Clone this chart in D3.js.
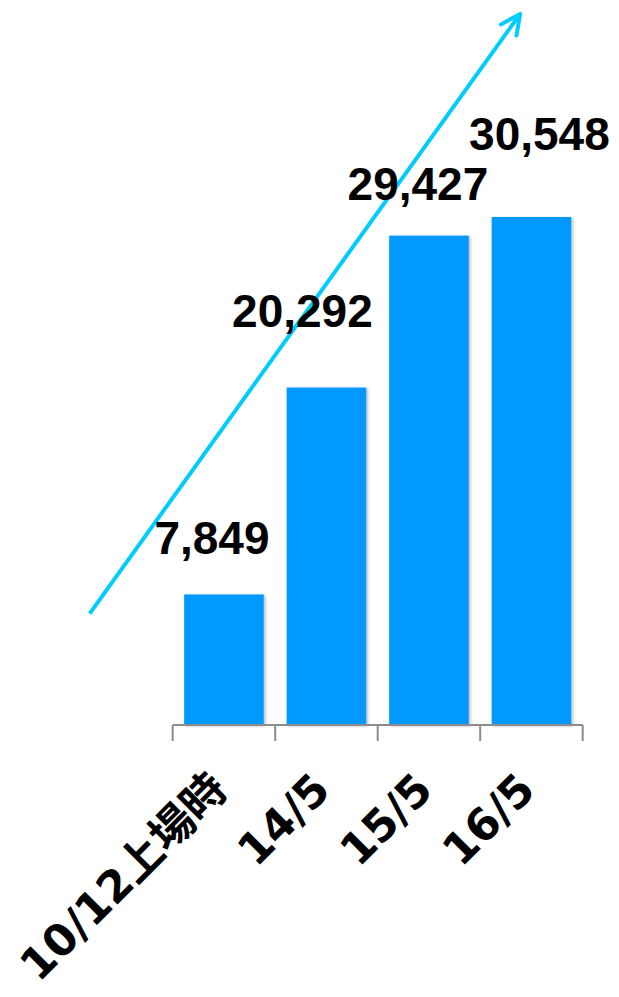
<!DOCTYPE html>
<html>
<head>
<meta charset="utf-8">
<script src="https://cdn.jsdelivr.net/npm/d3@7"></script>
<style>
  html, body { margin: 0; padding: 0; background: #fff; }
  svg { display: block; }
</style>
</head>
<body>
<svg id="chart" width="619" height="997"></svg>
<script>
// ---- data ----
const categories = ["10/12上場時", "14/5", "15/5", "16/5"];
const values = [7849, 20292, 29427, 30548];
const valueLabels = ["7,849", "20,292", "29,427", "30,548"];
// trend arrow annotation, in (category-step, value) units
const trendPos = [-1.31, 2.89];
const trendValue = [6700, 42760];

// ---- layout ----
const W = 619, H = 997;
const baseY = 725;
// hand placement of the value labels, as in the original slide
const labelNudgeX = [-12, -24, -11, 8];
const labelNudgeY = [-40, -61, -36, -67];

const svg = d3.select("#chart");

const x = d3.scaleBand()
  .domain(categories)
  .range([172.7, 582.7])
  .paddingInner(0.224)
  .paddingOuter(0.112);

const y = d3.scaleLinear()
  .domain([0, 30548])
  .range([baseY, 217]);

const centerAt = p => x(categories[0]) + x.bandwidth() / 2 + p * x.step();

const defs = svg.append("defs");
const f = defs.append("filter").attr("id", "shadow")
  .attr("x", "-10%").attr("y", "-10%").attr("width", "130%").attr("height", "130%");
f.append("feDropShadow").attr("dx", 1.5).attr("dy", 1).attr("stdDeviation", 1.5)
  .attr("flood-color", "#000").attr("flood-opacity", 0.3);

defs.append("marker").attr("id", "head")
  .attr("markerUnits", "userSpaceOnUse")
  .attr("viewBox", "-24 -12 28 24")
  .attr("refX", 0).attr("refY", 0)
  .attr("markerWidth", 28).attr("markerHeight", 24)
  .attr("orient", "auto")
  .append("path")
  .attr("d", "M-19.8,-9.6 L0,0 L-19.8,9.6")
  .attr("fill", "none").attr("stroke", "#00CCFF")
  .attr("stroke-width", 4).attr("stroke-linecap", "round").attr("stroke-linejoin", "round");

// bars
svg.append("g").selectAll("rect")
  .data(values)
  .join("rect")
  .attr("x", (d, i) => x(categories[i]))
  .attr("y", d => y(d))
  .attr("width", x.bandwidth())
  .attr("height", d => baseY - y(d))
  .attr("fill", "#0099FF")
  .attr("filter", "url(#shadow)");

// axis line + ticks at band boundaries
const axis = svg.append("g").attr("stroke", "#8c8c8c").attr("stroke-width", 2);
const r = x.range();
axis.append("line").attr("x1", r[0]).attr("x2", r[1]).attr("y1", baseY).attr("y2", baseY);
const bounds = d3.range(categories.length + 1).map(i => r[0] + i * x.step());
axis.selectAll("line.tick").data(bounds).join("line").attr("class", "tick")
  .attr("x1", d => d).attr("x2", d => d)
  .attr("y1", baseY).attr("y2", baseY + 16);

// trend arrow
const line = d3.line()
  .x(d => centerAt(d[0]))
  .y(d => y(d[1]));
svg.append("path")
  .datum(d3.zip(trendPos, trendValue))
  .attr("d", line)
  .attr("fill", "none")
  .attr("stroke", "#00CCFF")
  .attr("stroke-width", 4)
  .attr("stroke-linecap", "butt")
  .attr("marker-end", "url(#head)");

// value labels
svg.append("g").selectAll("text")
  .data(values)
  .join("text")
  .attr("x", (d, i) => x(categories[i]) + x.bandwidth() / 2 + labelNudgeX[i])
  .attr("y", (d, i) => y(d) + labelNudgeY[i])
  .attr("text-anchor", "middle")
  .attr("font-family", "'Liberation Sans', Arial, sans-serif")
  .attr("font-weight", "bold")
  .attr("font-size", 46)
  .attr("fill", "#000")
  .text((d, i) => valueLabels[i]);

// category labels
svg.append("g").selectAll("text")
  .data(categories)
  .join("text")
  .attr("transform", d => `translate(${x(d) + x.bandwidth() / 2 + 6},${baseY + 67}) rotate(-45)`)
  .attr("text-anchor", "end")
  .attr("font-family", "'DejaVu Sans', 'Noto Sans CJK JP', sans-serif")
  .attr("font-weight", "bold")
  .attr("font-size", 44)
  .attr("fill", "#000")
  .text(d => d);
</script>
</body>
</html>
